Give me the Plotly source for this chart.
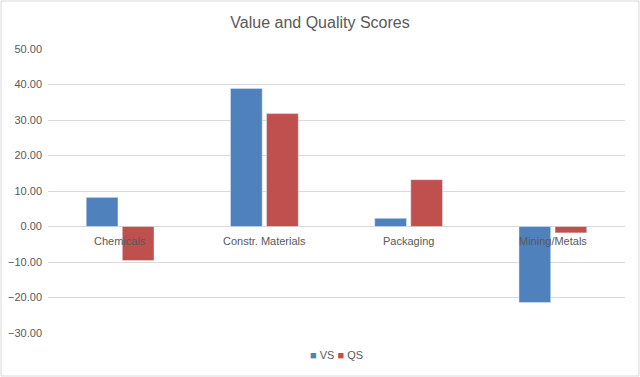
import plotly.graph_objects as go

categories = ["Chemicals", "Constr. Materials", "Packaging", "Mining/Metals"]
series_names = ["VS", "QS"]
vs_values = [8.2, 38.9, 2.3, -21.4]
qs_values = [-9.6, 31.8, 13.2, -1.8]
y_ticks = [-30, -20, -10, 0, 10, 20, 30, 40, 50]
colors = ["#4F81BD", "#C0504D"]

W, H = 640, 377
L, R, T, B = 48, 15, 49, 44
pw, ph = W - L - R, H - T - B

grey = "#595959"
font_family = "Liberation Sans, Arial, sans-serif"

fig = go.Figure()
for name, vals, col in zip(series_names, [vs_values, qs_values], colors):
    fig.add_trace(go.Bar(name=name, x=categories, y=vals, marker_color=col, showlegend=False))

for c in categories:
    fig.add_annotation(x=c, y=0, xref="x", yref="y", text=c, showarrow=False,
                       yanchor="top", yshift=-6, font=dict(size=11, color=grey, family=font_family))

legend_text = " ".join(
    f"<span style='color:{col}'>■</span> {name}" for name, col in zip(series_names, colors)
)
fig.add_annotation(x=0.5, y=-(355 - (H - B)) / ph, xref="paper", yref="paper", text=legend_text,
                   showarrow=False, xanchor="center", yanchor="middle",
                   font=dict(size=11, color=grey, family=font_family))

fig.add_shape(type="rect", xref="paper", yref="paper",
              x0=-(L - 1) / pw, x1=1 + (R - 1) / pw, y0=-(B - 1) / ph, y1=1 + (T - 1) / ph,
              line=dict(color="#d9d9d9", width=1), fillcolor="rgba(0,0,0,0)", layer="below")

fig.update_layout(
    width=W, height=H,
    margin=dict(l=L, r=R, t=T, b=B),
    paper_bgcolor="white", plot_bgcolor="white",
    title=dict(text="Value and Quality Scores", x=0.5, xanchor="center", y=1 - 22 / H, yanchor="middle",
               font=dict(size=16, color=grey, family=font_family)),
    barmode="group", bargap=0.5, bargroupgap=0.12,
    font=dict(family=font_family, color=grey, size=11),
    xaxis=dict(showticklabels=False, showgrid=False, zeroline=False, showline=False, ticks="", automargin=False),
    yaxis=dict(range=[-30, 50], tickvals=y_ticks, tickformat=".2f", showgrid=True, gridcolor="#d9d9d9",
               zeroline=True, zerolinecolor="#d9d9d9", zerolinewidth=1, showline=False,
               tickfont=dict(size=11, color=grey), automargin=False, ticklabelstandoff=5),
    showlegend=False,
)

fig.write_html("out.html")
